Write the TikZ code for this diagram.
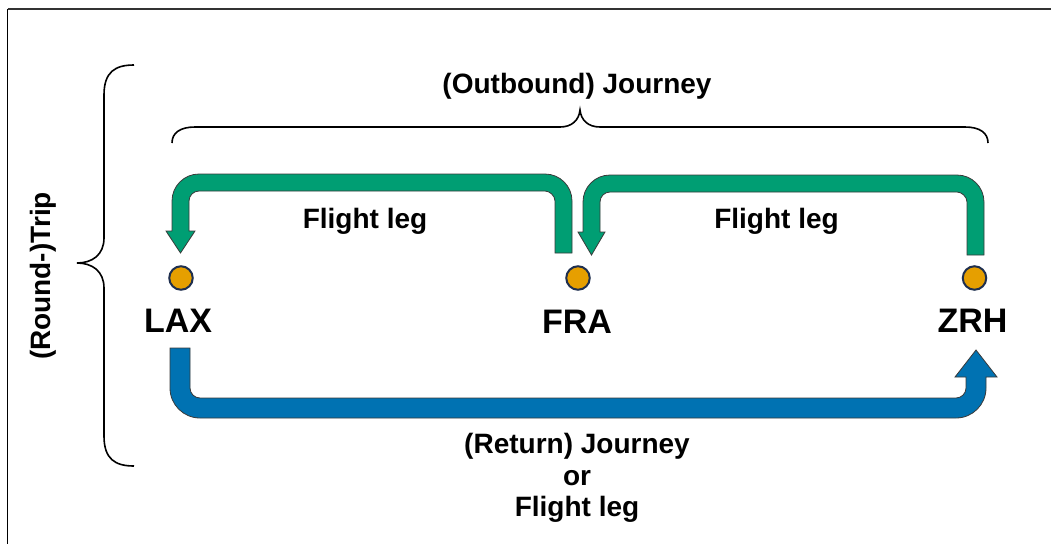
\documentclass[tikz,border=0pt]{standalone}
\usepackage{fontspec}
\setmainfont{Liberation Sans}
\definecolor{legGreen}{HTML}{009E73}
\definecolor{tripBlue}{HTML}{0072B2}
\definecolor{airportFill}{HTML}{E69F00}
\definecolor{airportRing}{HTML}{1F2F4F}
\definecolor{arrowEdge}{HTML}{3A3A3A}
\tikzset{
  label28/.style={font=\bfseries\fontsize{28}{32}\selectfont, inner sep=0pt, anchor=base},
  code34/.style={font=\bfseries\fontsize{34}{38}\selectfont, inner sep=0pt, anchor=base},
  airport/.style={circle, fill=airportFill, draw=airportRing, line width=2pt, minimum size=23.5pt, inner sep=0pt},
  bentarrow/.style={draw=arrowEdge, line width=0.8pt, line join=miter},
  bracket/.style={draw=black, line width=1.6pt}
}
\begin{document}
\begin{tikzpicture}[x=1pt,y=-1pt]
  \useasboundingbox (0,0) rectangle (1051,544);
  % frame edges
  \draw[line width=1.6pt, draw=black!80] (7.5,9) -- (1051,9);
  \draw[line width=1.6pt, draw=black] (7.5,9) -- (7.5,544);

  % airports
  \node[airport] (lax) at (181,278) {};
  \node[airport] (fra) at (578,278) {};
  \node[airport] (zrh) at (974.5,278) {};
  \node[code34] (laxname) at (178,332) {LAX};
  \node[code34] (franame) at (577,333) {FRA};
  \node[code34] (zrhname) at (972.5,332) {ZRH};

  % outbound leg FRA -> LAX
  \path[bentarrow, fill=legGreen]
    (555,253) -- (555,201) .. controls (555,195.5) and (549.5,191) .. (545,191)
    -- (199,191) .. controls (193.5,191) and (189,195.5) .. (189,201)
    -- (189,231) -- (195,231) -- (180.5,253) -- (166,231) -- (172,231)
    -- (172,201) .. controls (172,186.1) and (184.1,174) .. (199,174)
    -- (545,174) .. controls (559.9,174) and (572,186.1) .. (572,201)
    -- (572,253) -- cycle;
  % outbound leg ZRH -> FRA
  \path[bentarrow, fill=legGreen]
    (967,255) -- (967,202) .. controls (967,196.5) and (961.5,192) .. (957,192)
    -- (610,192) .. controls (604.5,192) and (600,196.5) .. (600,202)
    -- (600,232) -- (605,232) -- (591.5,255) -- (578,232) -- (583,232)
    -- (583,202) .. controls (583,187.1) and (595.1,175) .. (610,175)
    -- (957,175) .. controls (971.9,175) and (984,187.1) .. (984,202)
    -- (984,255) -- cycle;
  % return journey LAX -> ZRH
  \path[bentarrow, fill=tripBlue]
    (190,348) -- (190,388) .. controls (190,393.5) and (194.5,398) .. (200,398)
    -- (956,398) .. controls (961.5,398) and (966,393.5) .. (966,388)
    -- (966,377) -- (955,377) -- (976,350) -- (997,377) -- (986,377)
    -- (986,388) .. controls (986,404.6) and (972.6,418) .. (956,418)
    -- (200,418) .. controls (183.4,418) and (170,404.6) .. (170,388)
    -- (170,348) -- cycle;

  % leg labels
  \node[label28] (leg1) at (365,228) {Flight leg};
  \node[label28] (leg2) at (776.5,228) {Flight leg};

  % outbound journey bracket
  \draw[bracket] (172,143) .. controls (172,133) and (180,127) .. (195,127)
    -- (560,127) .. controls (572,127) and (579,120) .. (580,110)
    .. controls (581,120) and (588,127) .. (600,127)
    -- (965,127) .. controls (980,127) and (988,133) .. (988,143);
  \node[label28] (outbound) at (577,93) {(Outbound) Journey};

  % return journey caption
  \node[label28] (ret1) at (577,453) {(Return) Journey};
  \node[label28] (ret2) at (577,485) {or};
  \node[label28] (ret3) at (577,516) {Flight leg};

  % round-trip bracket
  \draw[bracket] (134,65) .. controls (115,65) and (104,72) .. (104,95)
    -- (104,238) .. controls (104,255) and (92,263) .. (77,263)
    .. controls (92,263) and (104,271) .. (104,288)
    -- (104,436) .. controls (104,459) and (115,466) .. (134,466);
  \node[label28, rotate=90] (trip) at (50,276) {(Round-)Trip};
\end{tikzpicture}
\end{document}
